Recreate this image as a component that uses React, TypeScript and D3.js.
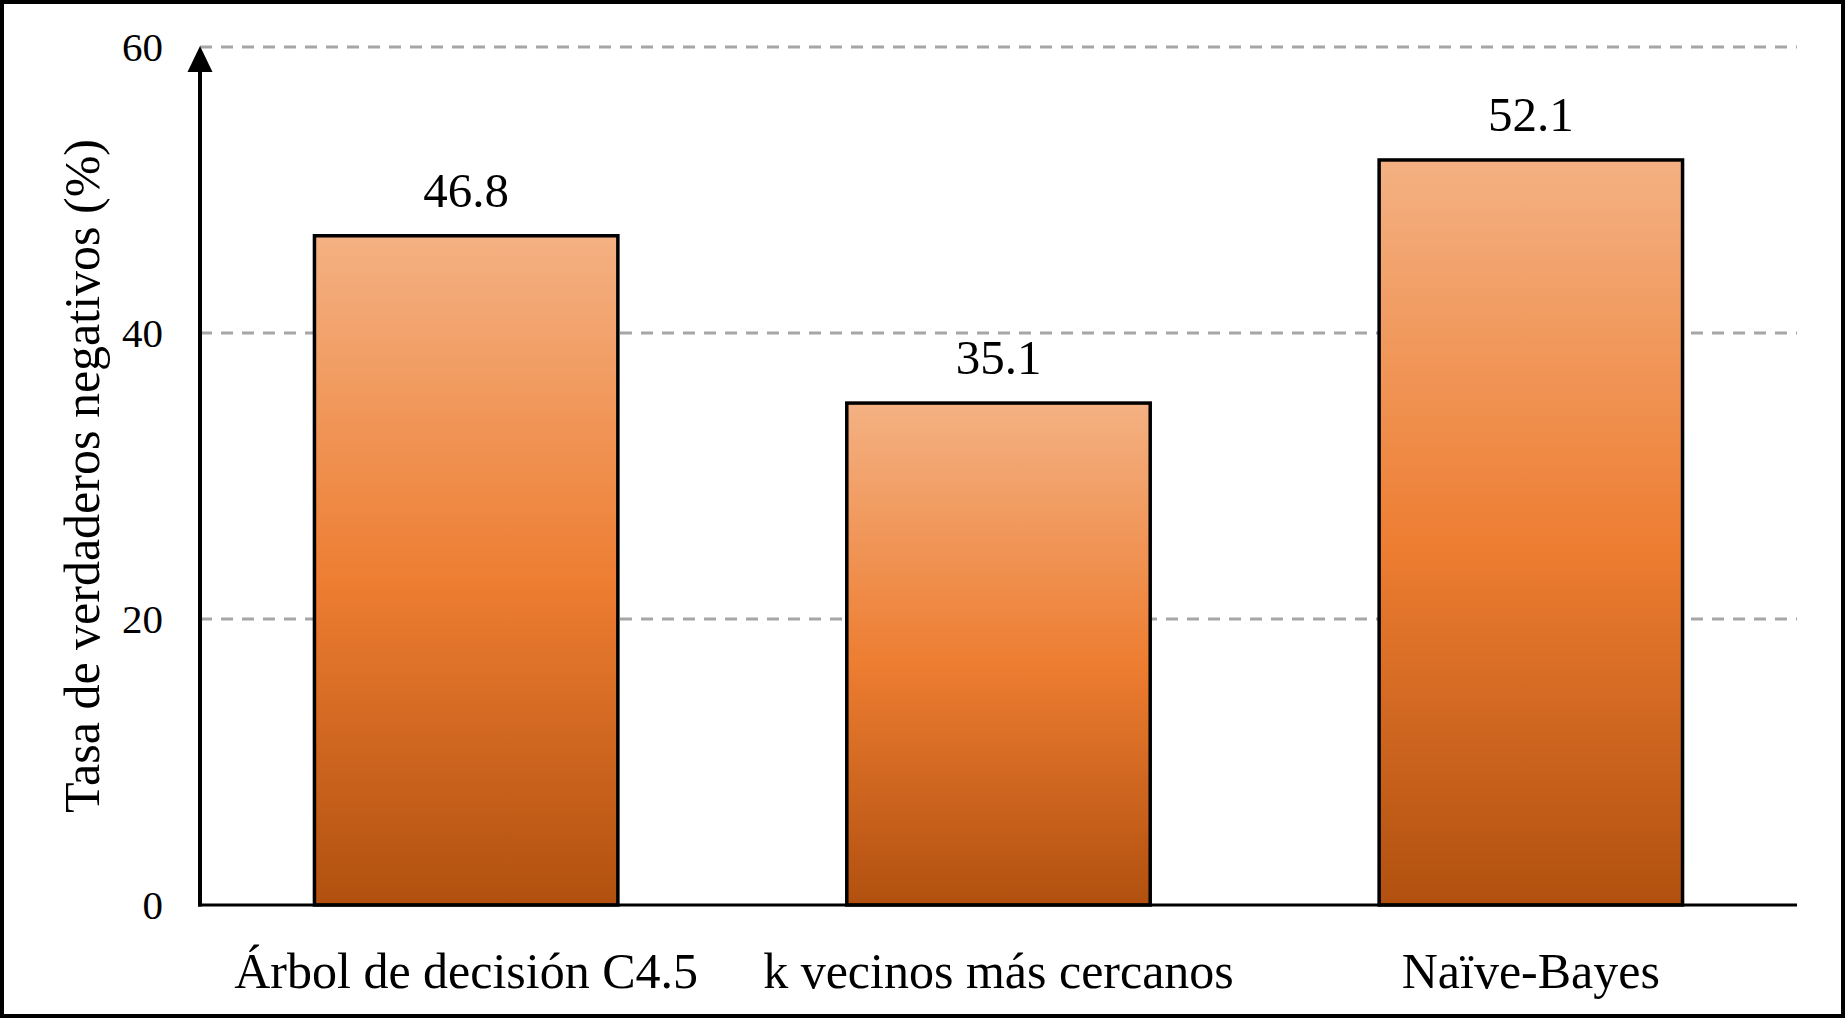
import { useEffect, useRef } from 'react';
import * as d3 from 'd3';

const categories = ['Árbol de decisión C4.5', 'k vecinos más cercanos', 'Naïve-Bayes'];
const values = [46.8, 35.1, 52.1];
const yTicks = [0, 20, 40, 60];
const yTitle = 'Tasa de verdaderos negativos (%)';

const WIDTH = 1845;
const HEIGHT = 1019;
const FONT = '"Liberation Serif", "Times New Roman", serif';

export default function App() {
  const svgRef = useRef<SVGSVGElement>(null);

  useEffect(() => {
    document.body.style.margin = '0';
    if (!svgRef.current) return;

    const svg = d3.select(svgRef.current);
    svg.selectAll('*').remove();

    const left = 200;
    const right = 1797;
    const top = 47;
    const bottom = 905;

    const x = d3.scaleBand<string>()
      .domain(categories)
      .range([left, right])
      .paddingInner(0.43)
      .paddingOuter(0.215);

    const y = d3.scaleLinear()
      .domain([0, 60])
      .range([bottom, top]);

    const defs = svg.append('defs');
    const grad = defs.append('linearGradient')
      .attr('id', 'barFill')
      .attr('x1', 0).attr('y1', 0)
      .attr('x2', 0).attr('y2', 1);
    grad.append('stop').attr('offset', '0%').attr('stop-color', '#f4b183');
    grad.append('stop').attr('offset', '52%').attr('stop-color', '#ed7d31');
    grad.append('stop').attr('offset', '100%').attr('stop-color', '#b1500f');

    svg.append('rect')
      .attr('width', WIDTH)
      .attr('height', HEIGHT)
      .attr('fill', '#fff');

    // dashed gridlines (not at zero)
    svg.append('g')
      .selectAll('line')
      .data(yTicks.filter(t => t > 0))
      .join('line')
      .attr('x1', left)
      .attr('x2', right)
      .attr('y1', d => y(d))
      .attr('y2', d => y(d))
      .attr('stroke', '#a6a6a6')
      .attr('stroke-width', 3)
      .attr('stroke-dasharray', '12 9');

    // tick labels
    svg.append('g')
      .selectAll('text')
      .data(yTicks)
      .join('text')
      .attr('x', 163)
      .attr('y', d => y(d))
      .attr('dy', '0.34em')
      .attr('text-anchor', 'end')
      .attr('font-family', FONT)
      .attr('font-size', 41)
      .attr('fill', '#000')
      .text(d => d);

    // bars
    svg.append('g')
      .selectAll('rect')
      .data(values)
      .join('rect')
      .attr('x', (_, i) => x(categories[i])!)
      .attr('y', d => y(d))
      .attr('width', x.bandwidth())
      .attr('height', d => bottom - y(d))
      .attr('fill', 'url(#barFill)')
      .attr('stroke', '#000')
      .attr('stroke-width', 3.5);

    // value labels
    svg.append('g')
      .selectAll('text')
      .data(values)
      .join('text')
      .attr('x', (_, i) => x(categories[i])! + x.bandwidth() / 2)
      .attr('y', d => y(d) - 29)
      .attr('text-anchor', 'middle')
      .attr('font-family', FONT)
      .attr('font-size', 49)
      .attr('fill', '#000')
      .text(d => d.toFixed(1));

    // category labels
    svg.append('g')
      .selectAll('text')
      .data(categories)
      .join('text')
      .attr('x', d => x(d)! + x.bandwidth() / 2)
      .attr('y', 988)
      .attr('text-anchor', 'middle')
      .attr('font-family', FONT)
      .attr('font-size', 50)
      .attr('fill', '#000')
      .text(d => d);

    // x axis line
    svg.append('line')
      .attr('x1', left - 2)
      .attr('x2', right)
      .attr('y1', bottom)
      .attr('y2', bottom)
      .attr('stroke', '#000')
      .attr('stroke-width', 3);

    // y axis line with arrow head
    svg.append('line')
      .attr('x1', left)
      .attr('x2', left)
      .attr('y1', bottom + 1.5)
      .attr('y2', top + 24)
      .attr('stroke', '#000')
      .attr('stroke-width', 4);

    svg.append('path')
      .attr('d', `M${left},${top - 1} L${left - 12.5},${top + 25} L${left + 12.5},${top + 25} Z`)
      .attr('fill', '#000');

    // y title
    svg.append('text')
      .attr('transform', `translate(99,${(top + bottom) / 2}) rotate(-90)`)
      .attr('text-anchor', 'middle')
      .attr('font-family', FONT)
      .attr('font-size', 50)
      .attr('fill', '#000')
      .text(yTitle);

    // outer frame
    svg.append('rect')
      .attr('x', 2)
      .attr('y', 2)
      .attr('width', WIDTH - 4)
      .attr('height', HEIGHT - 5)
      .attr('fill', 'none')
      .attr('stroke', '#000')
      .attr('stroke-width', 4);
  }, []);

  return (
    <svg
      ref={svgRef}
      width={WIDTH}
      height={HEIGHT}
      style={{ display: 'block' }}
    />
  );
}
